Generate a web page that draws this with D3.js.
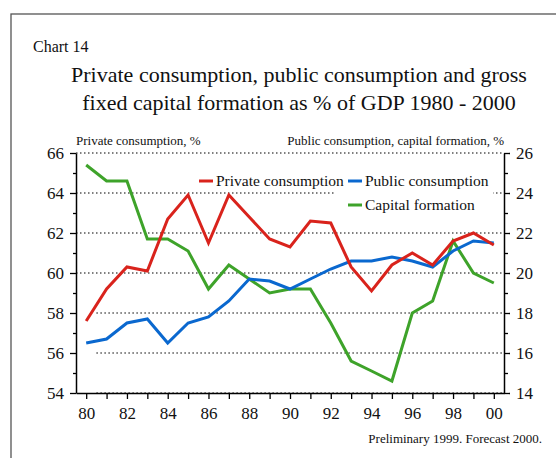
<!DOCTYPE html>
<html>
<head>
<meta charset="utf-8">
<script src="https://cdn.jsdelivr.net/npm/d3@7"></script>
<style>
  html, body { margin: 0; padding: 0; background: #fff; }
  svg { display: block; }
  text { font-family: "Liberation Serif", "Times New Roman", serif; fill: #111; }
</style>
</head>
<body>
<svg id="chart" width="556" height="458"></svg>
<script>
// ---- data ----
const years = [1980,1981,1982,1983,1984,1985,1986,1987,1988,1989,1990,1991,1992,1993,1994,1995,1996,1997,1998,1999,2000];
const privateConsumption = [57.6,59.2,60.3,60.1,62.7,63.9,61.5,63.9,62.8,61.7,61.3,62.6,62.5,60.3,59.1,60.4,61.0,60.4,61.6,62.0,61.4];
const publicConsumption  = [16.5,16.7,17.5,17.7,16.5,17.5,17.8,18.6,19.7,19.6,19.2,19.7,20.2,20.6,20.6,20.8,20.6,20.3,21.1,21.6,21.5];
const capitalFormation   = [25.4,24.6,24.6,21.7,21.7,21.1,19.2,20.4,19.7,19.0,19.2,19.2,17.5,15.6,15.1,14.6,18.0,18.6,21.6,20.0,19.5];
const leftTicks  = [54,56,58,60,62,64,66];
const rightTicks = [14,16,18,20,22,24,26];
const xLabelYears = [1980,1982,1984,1986,1988,1990,1992,1994,1996,1998,2000];
const seriesNames = ["Private consumption","Public consumption","Capital formation"];
const seriesColors = ["#d9231c","#0a68cf","#3ea32a"];

// ---- layout ----
const svg = d3.select("#chart");
const L = 76, R = 504, T = 153, B = 393;

const x = d3.scaleLinear().domain([1979.5, 2000.5]).range([L, R]);
const yL = d3.scaleLinear().domain([54, 66]).range([B, T]);
const yR = d3.scaleLinear().domain([14, 26]).range([B, T]);

// frame
svg.append("rect").attr("x", 11).attr("y", 14).attr("width", 600).attr("height", 500)
  .attr("fill", "none").attr("stroke", "#555").attr("stroke-width", 1.3);

// titles
svg.append("text").attr("x", 33).attr("y", 52).attr("font-size", 16).text("Chart 14");
svg.append("text").attr("x", 299).attr("y", 82).attr("text-anchor", "middle").attr("font-size", 22)
  .text("Private consumption, public consumption and gross");
svg.append("text").attr("x", 299).attr("y", 110).attr("text-anchor", "middle").attr("font-size", 22)
  .text("fixed capital formation as % of GDP 1980 - 2000");

svg.append("text").attr("x", L).attr("y", 145).attr("font-size", 13).text("Private consumption, %");
svg.append("text").attr("x", R).attr("y", 145).attr("text-anchor", "end").attr("font-size", 13)
  .text("Public consumption, capital formation, %");

// gridlines (dotted)
const gridVals = leftTicks.filter(v => v > 54);
svg.append("g").selectAll("line").data(gridVals).join("line")
  .attr("x1", d => d < 60 ? x(1980.5) : L).attr("x2", R)
  .attr("y1", d => yL(d)).attr("y2", d => yL(d))
  .attr("stroke", "#000").attr("stroke-width", 1.2).attr("stroke-dasharray", "1.5,2.5");
svg.append("line").attr("x1", x(1980.5)).attr("x2", R).attr("y1", B).attr("y2", B)
  .attr("stroke", "#000").attr("stroke-width", 1.2).attr("stroke-dasharray", "1.5,2.5");

// legend white box (second column)
svg.append("rect").attr("x", 335).attr("y", 165).attr("width", 158).attr("height", 50).attr("fill", "#fff");

// lines
const lineL = d3.line().x((d, i) => x(years[i])).y(d => yL(d));
const lineR = d3.line().x((d, i) => x(years[i])).y(d => yR(d));
const lg = svg.append("g").attr("fill", "none").attr("stroke-width", 3).attr("stroke-linejoin", "miter");
lg.append("path").attr("d", lineR(capitalFormation)).attr("stroke", seriesColors[2]);
lg.append("path").attr("d", lineR(publicConsumption)).attr("stroke", seriesColors[1]);
lg.append("path").attr("d", lineL(privateConsumption)).attr("stroke", seriesColors[0]);

// axes
const fmtYear = d => String(d).slice(2);
const axisStyle = g => {
  g.select(".domain").attr("stroke", "#000").attr("stroke-width", 1.5);
  g.selectAll(".tick line").attr("stroke", "#000").attr("stroke-width", 1.3);
  g.selectAll("text").attr("font-size", 17).attr("font-family", "Liberation Serif, Times New Roman, serif").attr("fill", "#111");
};

// left axis major + minor
const leftMinor = d3.range(55, 66, 2);
svg.append("g").attr("transform", `translate(${L},0)`)
  .call(d3.axisLeft(yL).tickValues(leftMinor).tickSize(3).tickFormat("").tickSizeOuter(0))
  .call(g => { g.select(".domain").remove(); g.selectAll("line").attr("stroke", "#000").attr("stroke-width", 1.3); });
svg.append("g").attr("transform", `translate(${L},0)`)
  .call(d3.axisLeft(yL).tickValues(leftTicks).tickSize(6).tickPadding(6).tickSizeOuter(0))
  .call(axisStyle);

const rightMinor = d3.range(15, 26, 2);
svg.append("g").attr("transform", `translate(${R},0)`)
  .call(d3.axisRight(yR).tickValues(rightMinor).tickSize(4).tickFormat("").tickSizeOuter(0))
  .call(g => { g.select(".domain").remove(); g.selectAll("line").attr("stroke", "#000").attr("stroke-width", 1.3); });
svg.append("g").attr("transform", `translate(${R},0)`)
  .call(d3.axisRight(yR).tickValues(rightTicks).tickSize(6).tickPadding(6).tickSizeOuter(0))
  .call(axisStyle);

// bottom axis: ticks every year, labels every second
svg.append("g").attr("transform", `translate(0,${B})`)
  .call(d3.axisBottom(x).tickValues(years).tickSize(6).tickFormat("").tickSizeOuter(0))
  .call(axisStyle);
svg.append("g").attr("transform", `translate(0,${B})`)
  .call(d3.axisBottom(x).tickValues(xLabelYears).tickSize(0).tickPadding(14).tickFormat(fmtYear).tickSizeOuter(0))
  .call(axisStyle)
  .call(g => g.select(".domain").remove());

// legend
const legendPos = [[199, 181], [348, 181], [348, 205]];
const leg = svg.append("g");
seriesNames.forEach((n, i) => {
  const [lx, ly] = legendPos[i];
  leg.append("line").attr("x1", lx).attr("x2", lx + 14).attr("y1", ly).attr("y2", ly)
    .attr("stroke", seriesColors[i]).attr("stroke-width", 3);
  leg.append("text").attr("x", lx + 17).attr("y", ly + 5).attr("font-size", 15.5).text(n);
});

// footnote
svg.append("text").attr("x", 542).attr("y", 443).attr("text-anchor", "end").attr("font-size", 13)
  .text("Preliminary 1999. Forecast 2000.");
</script>
</body>
</html>
